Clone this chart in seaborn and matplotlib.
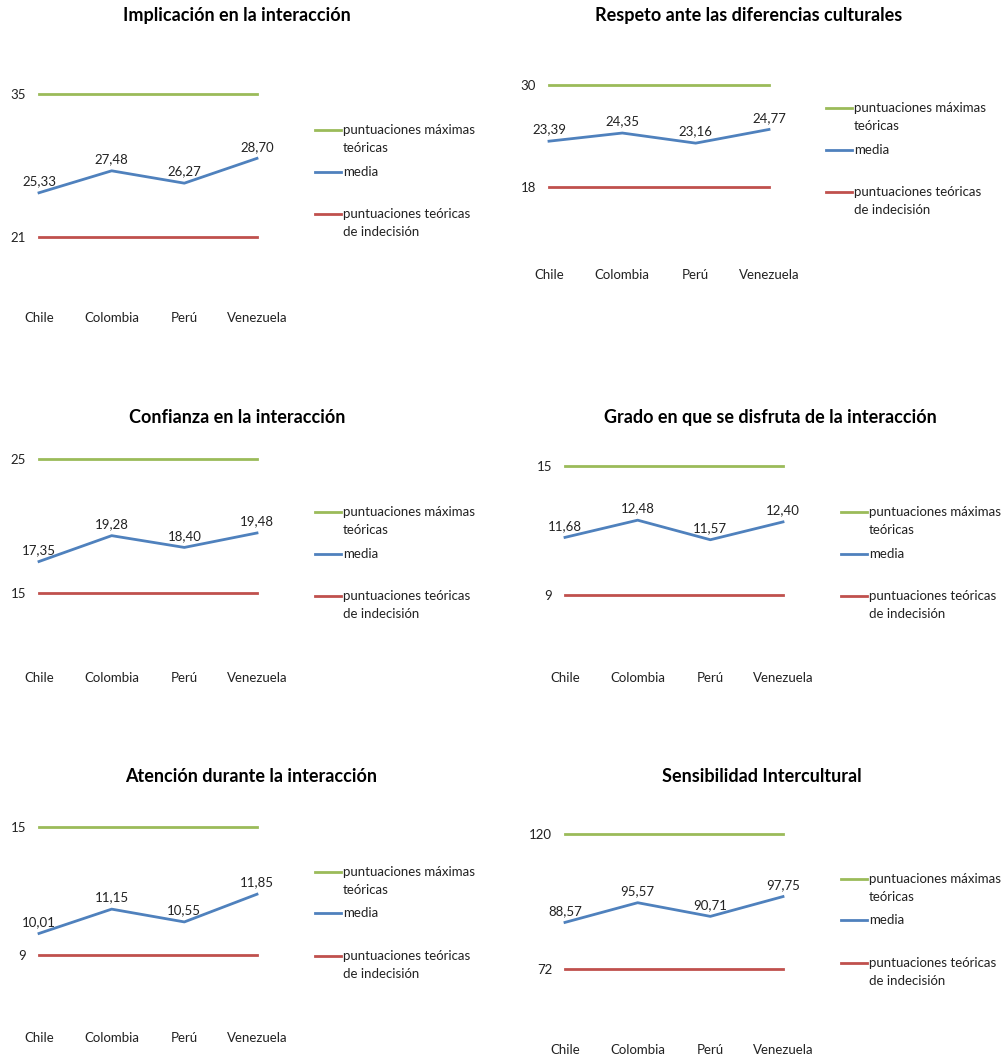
import numpy as np
import matplotlib.pyplot as plt
from matplotlib.lines import Line2D
import seaborn as sn

paises = ["Chile", "Colombia", "Perú", "Venezuela"]

titulos = [
    "Implicación en la interacción",
    "Respeto ante las diferencias culturales",
    "Confianza en la interacción",
    "Grado en que se disfruta de la interacción",
    "Atención durante la interacción",
    "Sensibilidad Intercultural",
]

# medias por pais
media_implicacion = [25.33, 27.48, 26.27, 28.70]
media_respeto = [23.39, 24.35, 23.16, 24.77]
media_confianza = [17.35, 19.28, 18.40, 19.48]
media_disfrute = [11.68, 12.48, 11.57, 12.40]
media_atencion = [10.01, 11.15, 10.55, 11.85]
media_sensibilidad = [88.57, 95.57, 90.71, 97.75]

# puntuaciones maximas teoricas y de indecision
maximas = [35, 30, 25, 15, 15, 120]
indecision = [21, 18, 15, 9, 9, 72]

medias = [media_implicacion, media_respeto, media_confianza,
          media_disfrute, media_atencion, media_sensibilidad]

etiquetas_leyenda = ["puntuaciones máximas\nteóricas", "media",
                     "puntuaciones teóricas\nde indecisión"]

VERDE = "#9BBB59"
AZUL = "#4F81BD"
ROJO = "#C0504D"

W, H = 1006, 1059

# layout en pixeles: x Chile, x Venezuela, y maxima, y indecision, y etiquetas x,
# centro titulo (x, y), x leyenda, y de cada item de leyenda
layout = [
    (39, 257, 94, 237, 317, (237, 15), 315, (130, 172, 214)),
    (549, 769, 85, 187, 274, (749, 15), 826, (108, 150, 192)),
    (39, 257, 459, 593, 677, (237, 418), 315, (512, 554, 596)),
    (565, 783, 466, 595, 677, (770, 418), 841, (512, 554, 596)),
    (39, 257, 827, 955, 1037, (251, 777), 315, (872, 913, 956)),
    (565, 783, 834, 969, 1049, (762, 777), 841, (879, 920, 963)),
]

plt.rcParams['font.family'] = ['Lato', 'DejaVu Sans']
FS = 9.5

fig = plt.figure(figsize=(W / 100, H / 100), dpi=100)
fig.patch.set_facecolor("white")


def fx(px):
    return px / W


def fy(py):
    return 1 - py / H


for k in range(6):
    x0, x3, yhi, ylo, ylab, (tx, ty), lx, lys = layout[k]
    hi, lo = maximas[k], indecision[k]
    ppx = (x3 - x0) / 3.0
    left_px = x0 - 0.12 * ppx
    right_px = x3 + 0.3 * ppx
    top_px = yhi - 30
    bottom_px = ylab - 9
    ax = fig.add_axes([fx(left_px), fy(bottom_px),
                       (right_px - left_px) / W, (bottom_px - top_px) / H])

    sn.lineplot(x=paises, y=[hi] * 4, color=VERDE, lw=2, ax=ax, sort=False)
    sn.lineplot(x=paises, y=medias[k], color=AZUL, lw=2, ax=ax, sort=False)
    sn.lineplot(x=paises, y=[lo] * 4, color=ROJO, lw=2, ax=ax, sort=False)

    ppy = (ylo - yhi) / (hi - lo)
    ax.set_xlim(-0.12, 3.3)
    ax.set_ylim(lo - (bottom_px - ylo) / ppy, hi + (yhi - top_px) / ppy)
    ax.set_yticks([lo, hi])
    ax.set_yticklabels([str(lo), str(hi)])
    ax.tick_params(length=0, labelsize=FS, colors="#222222", pad=3)
    ax.set_xlabel("")
    ax.set_ylabel("")
    for s in ax.spines.values():
        s.set_visible(False)

    for i, v in enumerate(medias[k]):
        ax.annotate(f"{v:.2f}".replace(".", ","), (i, v), xytext=(0, 4),
                    textcoords="offset points", ha="center", va="bottom",
                    fontsize=FS, color="#222222")

    fig.text(fx(tx), fy(ty), titulos[k], ha="center", va="center",
             fontsize=13, fontweight="bold", color="black")

    colores = [VERDE, AZUL, ROJO]
    for c, yy, lab in zip(colores, lys, etiquetas_leyenda):
        fig.add_artist(Line2D([fx(lx), fx(lx + 26)], [fy(yy), fy(yy)],
                              color=c, lw=2, transform=fig.transFigure))
        fig.text(fx(lx + 28), fy(yy - 6), lab, ha="left", va="top",
                 fontsize=FS, color="#222222", linespacing=1.6)

fig.savefig("out.png", dpi=100, facecolor="white")
